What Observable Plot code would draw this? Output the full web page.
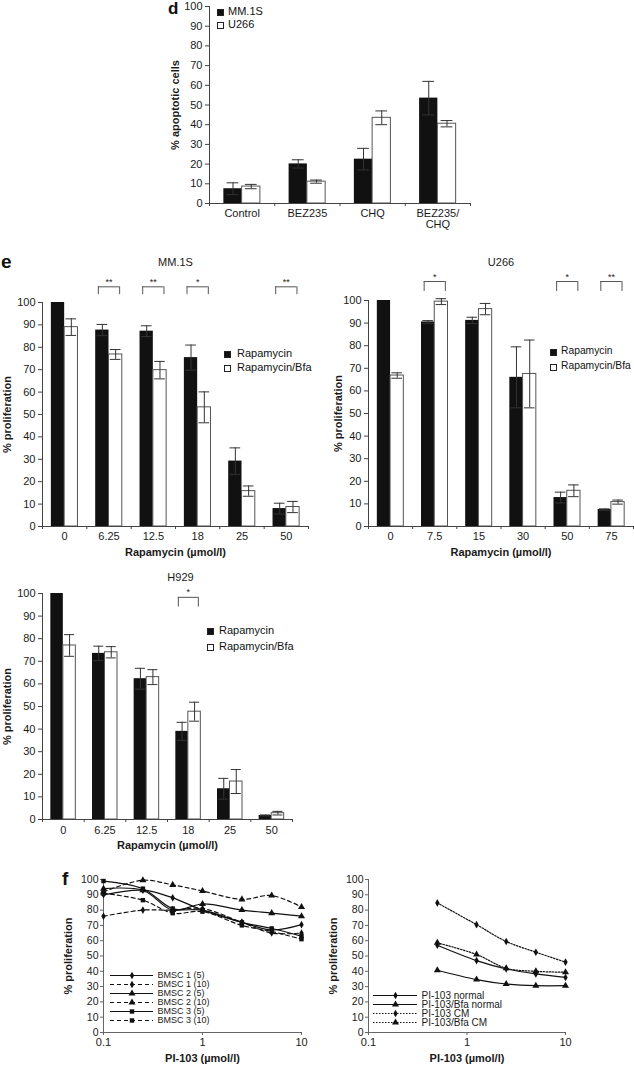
<!DOCTYPE html>
<html><head><meta charset="utf-8">
<script src="https://cdn.jsdelivr.net/npm/d3@7"></script>
<script src="https://cdn.jsdelivr.net/npm/@observablehq/plot@0.6"></script>
<style>
body{margin:0;background:#fff;font-family:"Liberation Sans",Arial,sans-serif;}
#fig{position:relative;width:634px;height:1065px;overflow:hidden;background:#fff;}
.pl{position:absolute;}
.letter{position:absolute;font-weight:bold;color:#111;line-height:1;}
.leg{position:absolute;color:#111;white-space:nowrap;line-height:1;}
.sw{position:absolute;width:7px;height:7px;box-sizing:border-box;border:1px solid #222;}
</style></head><body><div id="fig"></div>
<script>
// ---------- data ----------
// panel d
const dCategories = ["Control", "BEZ235", "CHQ", "BEZ235/\nCHQ"];
const dSeries = ["MM.1S", "U266"];
const dMM1S = [7.5, 20.1, 22.5, 53.5];
const dMM1SErr = [3.0, 2.1, 5.5, 8.5];
const dU266 = [8.6, 11.1, 43.5, 40.5];
const dU266Err = [1.1, 0.8, 3.5, 1.6];

// panel e
const eSeries = ["Rapamycin", "Rapamycin/Bfa"];
const mmDoses = ["0", "6.25", "12.5", "18", "25", "50"];
const mmRapa = [100, 87.7, 87.2, 75.4, 29.2, 8.0];
const mmRapaErr = [0, 2.5, 2.4, 5.6, 5.9, 2.4];
const mmBfa = [89.0, 76.8, 69.8, 53.2, 15.8, 8.7];
const mmBfaErr = [3.7, 2.2, 3.9, 6.9, 2.3, 2.5];
const mmSig = ["", "**", "**", "*", "", "**"];

const uDoses = ["0", "7.5", "15", "30", "50", "75"];
const uRapa = [100, 90.5, 91.2, 66.0, 12.8, 7.5];
const uRapaErr = [0, 0.6, 1.4, 13.5, 2.4, 0.3];
const uBfa = [66.8, 99.5, 96.2, 67.5, 15.8, 10.8];
const uBfaErr = [1.2, 1.3, 2.5, 15.0, 2.6, 0.9];
const uSig = ["", "*", "", "", "*", "**"];

const hDoses = ["0", "6.25", "12.5", "18", "25", "50"];
const hRapa = [100, 73.5, 62.3, 39.0, 13.6, 1.8];
const hRapaErr = [0, 3.2, 4.6, 4.0, 4.6, 0.2];
const hBfa = [77.0, 74.0, 63.0, 47.7, 16.8, 2.8];
const hBfaErr = [4.8, 2.5, 3.3, 4.2, 5.3, 0.8];
const hSig = ["", "", "", "*", "", ""];

// panel f
const fLeftDose = [0.1, 0.25, 0.5, 1, 2.5, 5, 10];
const fLeftNames = ["BMSC 1 (5)", "BMSC 1 (10)", "BMSC 2 (5)", "BMSC 2 (10)", "BMSC 3 (5)", "BMSC 3 (10)"];
const bmsc1_5  = [90, 93, 88, 80, 72, 67, 70.5];
const bmsc1_10 = [76, 80, 80, 81, 72, 65, 65];
const bmsc2_5  = [94, 93, 80, 84, 80, 78, 76];
const bmsc2_10 = [92, 99.5, 96.5, 92.5, 87, 89.5, 82];
const bmsc3_5  = [99, 94, 81, 80, 72, 68, 63];
const bmsc3_10 = [91, 86.5, 78, 79, 70, 66, 61];

const fRightDose = [0.5, 1.25, 2.5, 5, 10];
const fRightNames = ["PI-103 normal", "PI-103/Bfa normal", "PI-103 CM", "PI-103/Bfa CM"];
const piNormal    = [57, 47, 41.6, 38.3, 36];
const piBfaNormal = [40.7, 34.6, 31.7, 30.6, 30.6];
const piCM        = [84.7, 70.5, 59.5, 52.5, 46];
const piBfaCM     = [58.6, 51, 42, 40, 39.4];

const yTicks = d3.range(0, 101, 10);

// ---------- helpers ----------
const fig = document.getElementById("fig");
const FONT = "'Liberation Sans', Arial, sans-serif";
const AX = "#444";

function place(el, left, top) {
  const w = document.createElement("div");
  w.className = "pl";
  w.style.left = left + "px";
  w.style.top = top + "px";
  w.appendChild(el);
  fig.appendChild(w);
}
function letter(t, left, top, size) {
  const d = document.createElement("div");
  d.className = "letter";
  d.textContent = t;
  d.style.left = left + "px"; d.style.top = top + "px"; d.style.fontSize = size + "px";
  fig.appendChild(d);
}
function barLegend(names, x, y0, y1, tx, fs) {
  [y0, y1].forEach((y, k) => {
    const s = document.createElement("div");
    s.className = "sw";
    s.style.left = (x - 3.5) + "px"; s.style.top = (y - 3.5) + "px";
    s.style.background = k === 0 ? "#111" : "#fff";
    fig.appendChild(s);
    const t = document.createElement("div");
    t.className = "leg";
    t.textContent = names[k];
    t.style.fontSize = fs + "px";
    t.style.left = tx + "px"; t.style.top = (y - fs * 0.55) + "px";
    fig.appendChild(t);
  });
}

function barPanel(c) {
  const n = c.cats.length;
  const rows = c.cats.flatMap((cat, i) => [
    {i, s: 0, v: c.a[i], e: c.aErr[i]},
    {i, s: 1, v: c.b[i], e: c.bErr[i]}
  ]);
  const f = c.frac;
  const left = d => d.i + 0.5 - (d.s === 0 ? f : 0);
  const right = d => d.i + 0.5 + (d.s === 0 ? 0 : f);
  const mid = d => d.i + 0.5 + (d.s === 0 ? -f / 2 : f / 2);
  const err = rows.filter(d => d.e > 0);
  const cap = c.cap;
  const sig = (c.sig || []).map((t, i) => ({i, t})).filter(d => d.t);
  const [bt, bb] = c.bracket || [0, 0];
  const bw = 0.24;
  const marks = [
    Plot.rectY(rows.filter(d => d.s === 0), {x1: left, x2: right, y1: 0, y2: d => d.v, fill: "#111"}),
    Plot.rectY(rows.filter(d => d.s === 1), {x1: left, x2: right, y1: 0, y2: d => d.v, fill: "white", stroke: "#555"}),
    Plot.ruleX(err, {x: mid, y1: d => d.v - d.e, y2: d => d.v + d.e, stroke: "#333"}),
    Plot.ruleY(err, {y: d => d.v + d.e, x1: d => mid(d) - cap, x2: d => mid(d) + cap, stroke: "#333"}),
    Plot.ruleY(err, {y: d => d.v - d.e, x1: d => mid(d) - cap, x2: d => mid(d) + cap, stroke: "#333"}),
    Plot.ruleX([0], {stroke: AX}),
    Plot.ruleY([0], {stroke: AX}),
    Plot.axisY({ticks: yTicks, tickSize: 4, tickPadding: 3, fontSize: c.fs, stroke: AX}),
    Plot.axisX({ticks: d3.range(0, n + 1), tickSize: 3, tickFormat: () => "", stroke: AX}),
    Plot.axisX({ticks: d3.range(n).map(i => i + 0.5), tickSize: 0, tickPadding: c.tp, fontSize: c.fs,
      tickFormat: d => c.cats[Math.round(d - 0.5)]}),
    Plot.text([c.yTitle], {frameAnchor: "left", rotate: -90, dx: c.yDx, textAnchor: "middle", lineAnchor: "middle", fontWeight: "bold", fontSize: c.fs}),
  ];
  if (c.xTitle) marks.push(Plot.text([c.xTitle], {frameAnchor: "bottom", dy: c.xDy, lineAnchor: "middle", fontWeight: "bold", fontSize: c.fs}));
  if (c.title) marks.push(Plot.text([c.title], {frameAnchor: "top", dy: c.titleDy, dx: c.titleDx || 0, lineAnchor: "middle", fontSize: c.fs}));
  if (sig.length) {
    marks.push(
      Plot.ruleY(sig, {y: bt, x1: d => d.i + 0.5 - bw, x2: d => d.i + 0.5 + bw, stroke: "#555"}),
      Plot.ruleX(sig, {x: d => d.i + 0.5 - bw, y1: bb, y2: bt, stroke: "#555"}),
      Plot.ruleX(sig, {x: d => d.i + 0.5 + bw, y1: bb, y2: bt, stroke: "#555"}),
      Plot.text(sig, {x: d => d.i + 0.5, y: bt, text: "t", dy: -2, fontSize: 9, lineAnchor: "bottom"})
    );
  }
  const p = Plot.plot({
    width: c.width, height: c.height,
    marginLeft: c.ml, marginRight: c.mr, marginTop: c.mt, marginBottom: c.mb,
    x: {domain: [0, n], label: null},
    y: {domain: [0, 100], label: null},
    style: {fontFamily: FONT, fontSize: c.fs + "px", background: "transparent", overflow: "visible", color: "#1a1a1a"},
    marks
  });
  place(p, c.left, c.top);
}

function linePanel(c) {
  const marks = [
    Plot.ruleX([0.1], {stroke: "#666"}),
    Plot.ruleY([0], {stroke: "#666"}),
    Plot.axisY({ticks: yTicks, tickSize: 3, tickPadding: 2, fontSize: 10.5, stroke: "#666"}),
    Plot.axisX({ticks: [0.1, 1, 10], tickSize: 3, tickPadding: 3, fontSize: 11, tickFormat: d => String(d), stroke: "#666"}),
    Plot.text([c.yTitle], {frameAnchor: "left", rotate: -90, dx: c.yDx, textAnchor: "middle", lineAnchor: "middle", fontWeight: "bold", fontSize: 11}),
    Plot.text([c.xTitle], {frameAnchor: "bottom", dy: 26, lineAnchor: "middle", fontWeight: "bold", fontSize: 11}),
  ];
  c.series.forEach(s => {
    const data = s.values.map((v, k) => ({x: c.dose[k], y: v}));
    marks.push(Plot.line(data, {x: "x", y: "y", curve: "catmull-rom", stroke: "#111", strokeWidth: 1.2, strokeDasharray: s.dash}));
    marks.push(Plot.dot(data, {x: "x", y: "y", symbol: s.symbol, r: s.r, fill: "#111"}));
  });
  const p = Plot.plot({
    width: c.width, height: c.height,
    marginLeft: c.ml, marginRight: c.mr, marginTop: c.mt, marginBottom: c.mb,
    x: {type: "log", domain: [0.1, 10], label: null},
    y: {domain: [0, 100], label: null},
    style: {fontFamily: FONT, fontSize: "11px", background: "transparent", overflow: "visible", color: "#1a1a1a"},
    marks
  });
  place(p, c.left, c.top);
}

function lineLegend(c) {
  const marks = [];
  c.series.forEach(s => {
    marks.push(Plot.ruleY([s.name], {y: d => d, x1: 0, x2: 1, stroke: "#111", strokeWidth: 1.2, strokeDasharray: s.dash}));
    marks.push(Plot.dot([s.name], {x: () => 0.5, y: d => d, symbol: s.symbol, r: s.r, fill: "#111"}));
    marks.push(Plot.text([s.name], {x: () => 1, y: d => d, dx: 4, textAnchor: "start", fontSize: c.fs}));
  });
  const p = Plot.plot({
    width: c.width, height: c.height,
    marginLeft: 2, marginRight: c.width - 2 - c.lineLen, marginTop: 5, marginBottom: 5,
    x: {domain: [0, 1], axis: null},
    y: {type: "point", domain: c.series.map(s => s.name), padding: 0, axis: null},
    style: {fontFamily: FONT, background: "transparent", overflow: "visible", color: "#1a1a1a"},
    marks
  });
  place(p, c.left, c.top);
}

// ---------- panel d ----------
barPanel({cats: dCategories, a: dMM1S, aErr: dMM1SErr, b: dU266, bErr: dU266Err,
  left: 150, top: 0, width: 330, height: 240, ml: 59, mr: 10, mt: 6, mb: 37,
  frac: 0.28, cap: 0.09, fs: 11, tp: 6, yTitle: "% apoptotic cells", yDx: -34});
barLegend(dSeries, 220, 12, 25, 228, 11);
letter("d", 168, 0, 17);

// ---------- panel e ----------
barPanel({cats: mmDoses, a: mmRapa, aErr: mmRapaErr, b: mmBfa, bErr: mmBfaErr, sig: mmSig, bracket: [107, 103.5],
  left: 0, top: 250, width: 320, height: 310, ml: 42, mr: 12, mt: 52, mb: 34,
  frac: 0.3, cap: 0.12, fs: 11, tp: 6, title: "MM.1S", titleDy: -40,
  xTitle: "Rapamycin (\u00b5mol/l)", xDy: 26, yTitle: "% proliferation", yDx: -35});
barLegend(eSeries, 227, 354, 368, 237, 11);

barPanel({cats: uDoses, a: uRapa, aErr: uRapaErr, b: uBfa, bErr: uBfaErr, sig: uSig, bracket: [108.4, 104],
  left: 320, top: 250, width: 314, height: 310, ml: 48, mr: 1, mt: 50, mb: 34,
  frac: 0.3, cap: 0.12, fs: 11, tp: 6, title: "U266", titleDy: -38,
  xTitle: "Rapamycin (\u00b5mol/l)", xDy: 26, yTitle: "% proliferation", yDx: -30});
barLegend(eSeries, 553, 352, 367, 561, 10.3);

barPanel({cats: hDoses, a: hRapa, aErr: hRapaErr, b: hBfa, bErr: hBfaErr, sig: hSig, bracket: [98.3, 94],
  left: 0, top: 550, width: 300, height: 300, ml: 42, mr: 8, mt: 43, mb: 31,
  frac: 0.3, cap: 0.12, fs: 11, tp: 7, title: "H929", titleDy: -16, titleDx: 13,
  xTitle: "Rapamycin (\u00b5mol/l)", xDy: 26, yTitle: "% proliferation", yDx: -35});
barLegend(eSeries, 210, 631, 647, 219, 11);
letter("e", 1, 252, 19);

// ---------- panel f ----------
const fLeftSeries = [
  {name: fLeftNames[0], values: bmsc1_5,  dash: null,  symbol: "diamond",  r: 2.3},
  {name: fLeftNames[1], values: bmsc1_10, dash: "4,3", symbol: "diamond",  r: 2.3},
  {name: fLeftNames[2], values: bmsc2_5,  dash: null,  symbol: "triangle", r: 2.6},
  {name: fLeftNames[3], values: bmsc2_10, dash: "4,3", symbol: "triangle", r: 2.6},
  {name: fLeftNames[4], values: bmsc3_5,  dash: null,  symbol: "square",   r: 2.5},
  {name: fLeftNames[5], values: bmsc3_10, dash: "4,3", symbol: "square",   r: 2.5},
];
linePanel({dose: fLeftDose, series: fLeftSeries,
  left: 60, top: 870, width: 260, height: 195, ml: 43, mr: 19, mt: 9, mb: 33,
  yTitle: "% proliferation", yDx: -35, xTitle: "PI-103 (\u00b5mol/l)"});
lineLegend({series: fLeftSeries, left: 108, top: 968, width: 120, height: 59, lineLen: 43, fs: 9});
letter("f", 62, 869, 19);

const fRightSeries = [
  {name: fRightNames[0], values: piNormal,    dash: null,    symbol: "diamond",  r: 2.3},
  {name: fRightNames[1], values: piBfaNormal, dash: null,    symbol: "triangle", r: 2.6},
  {name: fRightNames[2], values: piCM,        dash: "1.5,1.5", symbol: "diamond",  r: 2.3},
  {name: fRightNames[3], values: piBfaCM,     dash: "1.5,1.5", symbol: "triangle", r: 2.6},
];
linePanel({dose: fRightDose, series: fRightSeries,
  left: 320, top: 870, width: 314, height: 195, ml: 48, mr: 69, mt: 9, mb: 33,
  yTitle: "% proliferation", yDx: -35, xTitle: "PI-103 (\u00b5mol/l)"});
lineLegend({series: fRightSeries, left: 371, top: 989, width: 130, height: 39, lineLen: 44, fs: 10});
</script>
</body></html>
